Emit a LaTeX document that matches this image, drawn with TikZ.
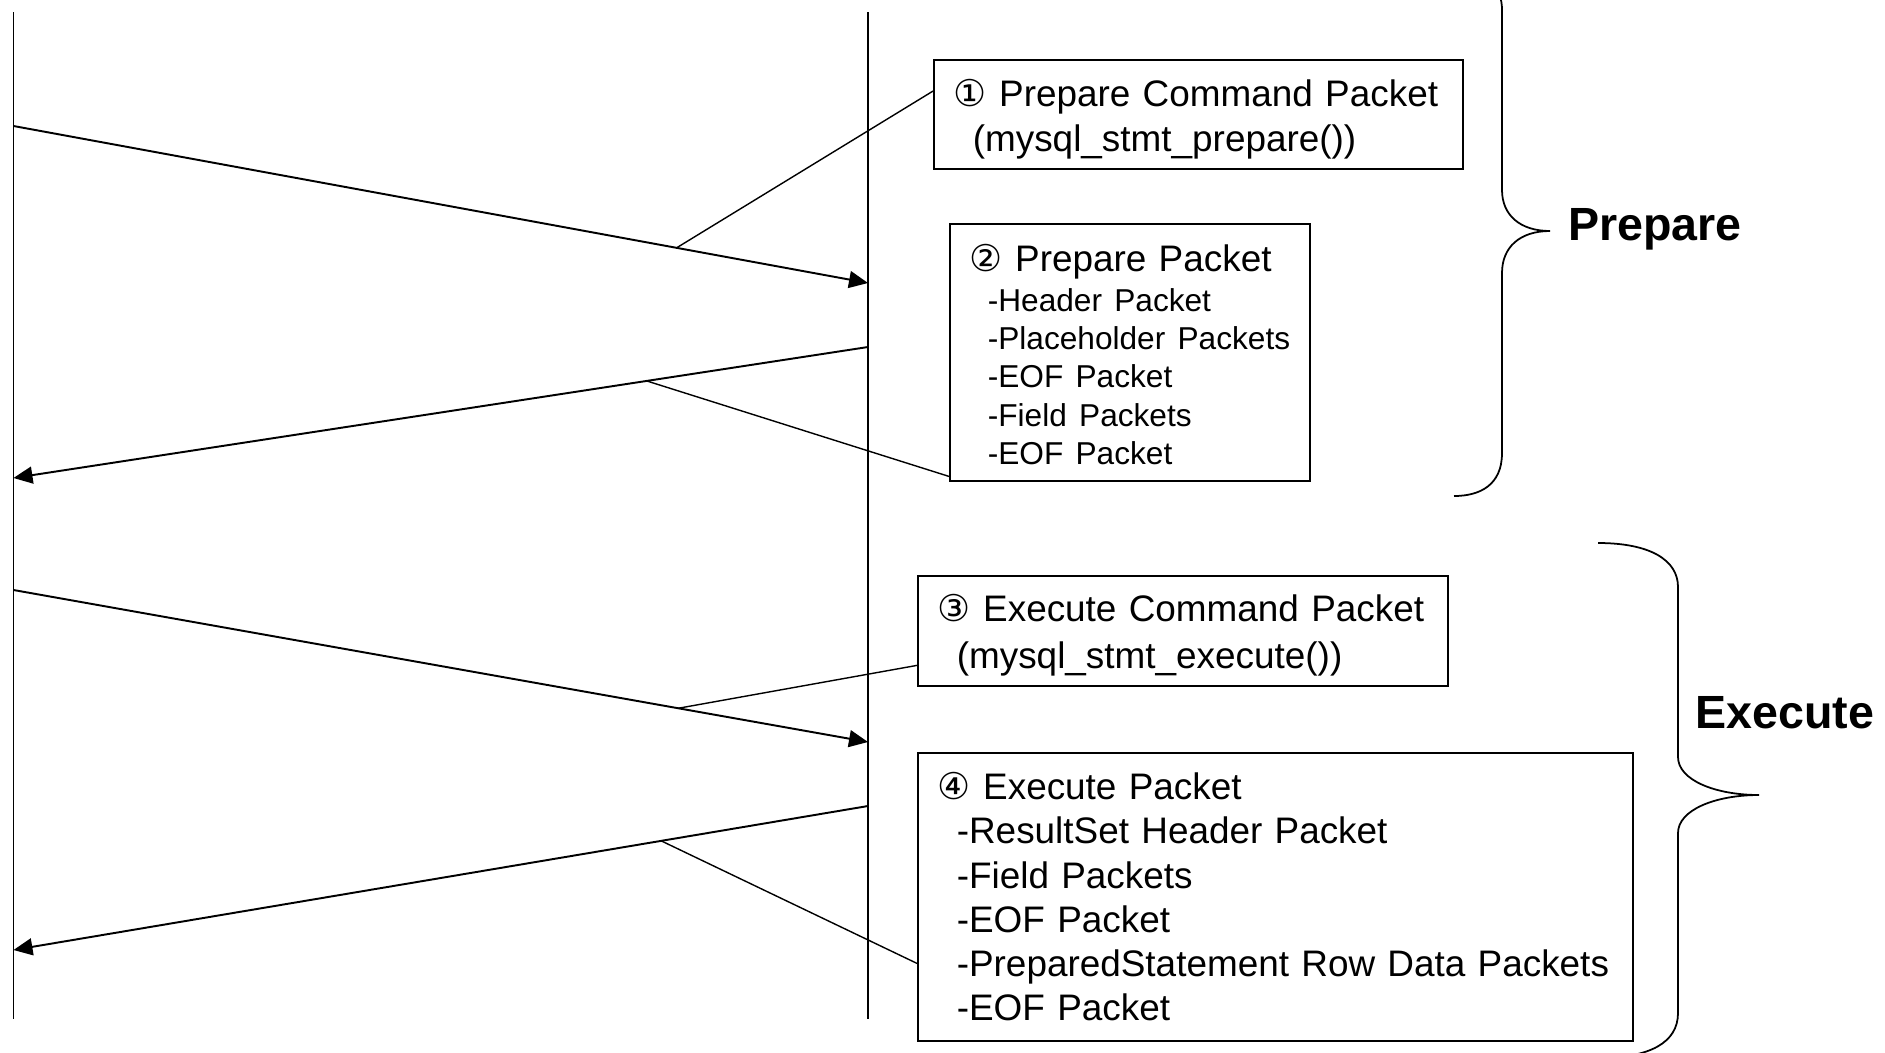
\documentclass[tikz,border=0pt]{standalone}
\usepackage{fontspec}
\setmainfont{Liberation Sans}
\newfontfamily\circfont{DejaVu Sans}
\usetikzlibrary{arrows.meta,calc}
\definecolor{Edge}{gray}{0}
\newcommand{\circnum}[1]{{\circfont #1}}

\begin{document}
\begin{tikzpicture}[>={Triangle[length=3.8mm,width=3.4mm]},
  box/.style={draw=Edge, line width=0.9pt, anchor=north west, align=left, inner xsep=0.4cm, inner ysep=0pt, font=\fontsize{21}{25.2}\selectfont},
  life/.style={draw=Edge, line width=0.8pt},
  arr/.style={->, draw=Edge, line width=1.1pt},
  note/.style={draw=Edge, line width=0.8pt},
  brace/.style={draw=Edge, line width=1pt},
  tag/.style={anchor=base west, inner sep=0pt, font=\fontsize{26.5}{30}\selectfont\bfseries} ]

\useasboundingbox (0,0) rectangle (37.7,-21.04);

% lifelines
\coordinate (ct) at (0.27,-0.24);
\coordinate (cb) at (0.27,-20.38);
\coordinate (st) at (17.36,-0.24);
\coordinate (sb) at (17.36,-20.38);
\draw[life] (ct) -- (cb);
\draw[life] (st) -- (sb);

% messages
\coordinate (m1a) at (0.27,-2.52);  \coordinate (m1b) at (17.36,-5.66);
\coordinate (m2a) at (17.36,-6.94); \coordinate (m2b) at (0.27,-9.56);
\coordinate (m3a) at (0.27,-11.8);  \coordinate (m3b) at (17.36,-14.84);
\coordinate (m4a) at (17.36,-16.12); \coordinate (m4b) at (0.27,-19.0);

\draw[arr] (m1a) -- coordinate[pos=0.776] (m1) (m1b);
\draw[arr] (m2a) -- coordinate[pos=0.259] (m2) (m2b);
\draw[arr] (m3a) -- coordinate[pos=0.778] (m3) (m3b);
\draw[arr] (m4a) -- coordinate[pos=0.242] (m4) (m4b);

% packet boxes
\node[box, text width=9.78cm, minimum height=2.18cm] (b1) at (18.66,-1.18)
  {\rule{0pt}{21pt}\circnum{①} Prepare Command Packet\\\hspace*{0.38cm}(mysql\_stmt\_prepare())};
\node[box, inner xsep=0.3cm, text width=6.6cm, minimum height=5.14cm] (b2) at (18.98,-4.46)
  {\rule{0pt}{18pt}\hspace*{0.1cm}\circnum{②} Prepare Packet\\[1pt]\fontsize{18}{21.8}\selectfont
   \hspace*{0.46cm}-Header Packet\\
   \hspace*{0.46cm}-Placeholder Packets\\
   \hspace*{0.46cm}-EOF Packet\\
   \hspace*{0.46cm}-Field Packets\\
   \hspace*{0.46cm}-EOF Packet\par};
\node[box, text width=9.8cm, minimum height=2.2cm] (b3) at (18.34,-11.5)
  {\rule{0pt}{21pt}\circnum{③} Execute Command Packet\\[1.6pt]\hspace*{0.38cm}(mysql\_stmt\_execute())};
\node[box, text width=13.5cm, minimum height=5.76cm] (b4) at (18.34,-15.04)
  {\circnum{④} Execute Packet\\
   \hspace*{0.38cm}-ResultSet Header Packet\\
   \hspace*{0.38cm}-Field Packets\\
   \hspace*{0.38cm}-EOF Packet\\
   \hspace*{0.38cm}-PreparedStatement Row Data Packets\\
   \hspace*{0.38cm}-EOF Packet};

% callouts
\draw[note] ($(b1.north west)!0.29!(b1.south west)$) -- (m1);
\draw[note] ($(b2.north west)!0.98!(b2.south west)$) -- (m2);
\draw[note] ($(b3.north west)!0.81!(b3.south west)$) -- (m3);
\draw[note] ($(b4.north west)!0.73!(b4.south west)$) -- (m4);

% braces
\draw[brace] (29.08,0.68) .. controls (29.8,0.68) and (30.04,0.2) .. (30.04,-0.2)
  -- (30.04,-3.8) .. controls (30.04,-4.3) and (30.4,-4.62) .. (31.0,-4.62)
  .. controls (30.4,-4.62) and (30.04,-4.94) .. (30.04,-5.46)
  -- (30.04,-9.06) .. controls (30.04,-9.7) and (29.6,-9.92) .. (29.08,-9.92);
\draw[brace] (31.96,-10.86) .. controls (33.0,-10.86) and (33.56,-11.2) .. (33.56,-11.74)
  -- (33.56,-15.14) .. controls (33.56,-15.6) and (34.3,-15.9) .. (35.18,-15.9)
  .. controls (34.3,-15.9) and (33.56,-16.2) .. (33.56,-16.66)
  -- (33.56,-20.26) .. controls (33.56,-20.85) and (33.0,-21.16) .. (31.96,-21.16);

\node[tag] (prep) at (31.36,-4.8) {Prepare};
\node[tag] (exec) at (33.9,-14.56) {Execute};

\end{tikzpicture}
\end{document}
